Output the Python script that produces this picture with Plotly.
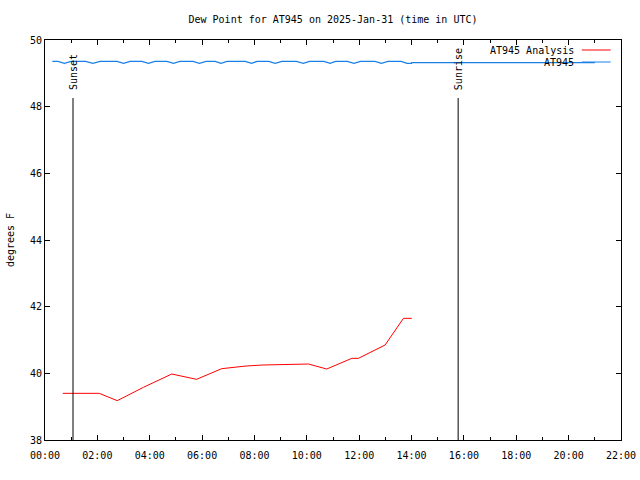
import plotly.graph_objects as go

# ---- data ----
red_hours = [0.68, 2.07, 2.76, 3.76, 4.84, 5.79, 6.75, 7.68, 8.32, 9.33, 10.06,
             10.76, 11.72, 11.97, 12.99, 13.69, 14.01]
red_values = [39.40, 39.40, 39.18, 39.58, 39.98, 39.82, 40.14, 40.22, 40.25, 40.28,
              40.28, 40.13, 40.45, 40.45, 40.85, 41.65, 41.65]

blue_hours = [0.28, 0.50, 0.74, 1.00, 1.55, 1.83, 2.10, 2.75, 3.00, 3.25, 3.70, 3.95,
              4.20, 4.65, 4.91, 5.15, 5.65, 5.90, 6.15, 6.50, 6.72, 6.95, 7.65, 7.89,
              8.10, 8.55, 8.79, 9.05, 9.60, 9.87, 10.10, 10.65, 10.89, 11.10, 11.55,
              11.80, 12.05, 12.60, 12.85, 13.10, 13.60, 13.83, 14.00, 14.01, 21.00]
blue_values = [49.36, 49.36, 49.30, 49.36, 49.36, 49.30, 49.36, 49.36, 49.30, 49.36,
               49.36, 49.30, 49.36, 49.36, 49.30, 49.36, 49.36, 49.30, 49.36, 49.36,
               49.30, 49.36, 49.36, 49.30, 49.36, 49.36, 49.30, 49.36, 49.36, 49.30,
               49.36, 49.36, 49.30, 49.36, 49.36, 49.30, 49.36, 49.36, 49.30, 49.36,
               49.36, 49.30, 49.30, 49.32, 49.32]

event_names = ["Sunset", "Sunrise"]
event_hours = [1.07, 15.78]

x_tick_vals = [0, 2, 4, 6, 8, 10, 12, 14, 16, 18, 20, 22]
x_tick_text = ["00:00", "02:00", "04:00", "06:00", "08:00", "10:00", "12:00",
               "14:00", "16:00", "18:00", "20:00", "22:00"]
y_tick_vals = [38, 40, 42, 44, 46, 48, 50]

series_names = ["AT945 Analysis", "AT945"]
series_colors = ["#ff0000", "#1a80e8"]

FONT = "DejaVu Sans Mono"

fig = go.Figure()
fig.add_trace(go.Scatter(x=red_hours, y=red_values, mode="lines",
                         line=dict(color=series_colors[0], width=1),
                         name=series_names[0], showlegend=False))
fig.add_trace(go.Scatter(x=blue_hours, y=blue_values, mode="lines",
                         line=dict(color=series_colors[1], width=1.3),
                         name=series_names[1], showlegend=False))

shapes = []
annotations = []
for name, h in zip(event_names, event_hours):
    shapes.append(dict(type="line", xref="x", yref="y domain", x0=h, x1=h,
                       y0=0, y1=0.855, line=dict(color="black", width=1)))
    annotations.append(dict(x=h, xref="x", y=0.87, yref="y domain", text=name,
                            textangle=-90, showarrow=False, xanchor="center",
                            yanchor="bottom", font=dict(family=FONT, size=10, color="black")))

# legend (gnuplot style: text then sample)
leg_y = [0.975, 0.945]
for name, col, ly in zip(series_names, series_colors, leg_y):
    annotations.append(dict(x=0.922, xref="paper", y=ly, yref="paper", text=name,
                            showarrow=False, xanchor="right", yanchor="middle",
                            font=dict(family=FONT, size=10, color="black")))
    shapes.append(dict(type="line", xref="paper", yref="paper", x0=0.932, x1=0.982,
                       y0=ly, y1=ly, line=dict(color=col, width=1)))

fig.update_layout(
    template="none",
    width=640, height=480,
    margin=dict(l=45, r=19, t=40, b=40, pad=0),
    paper_bgcolor="white", plot_bgcolor="white",
    font=dict(family=FONT, size=10, color="black"),
    title=dict(text="Dew Point for AT945 on 2025-Jan-31 (time in UTC)",
               x=0.5, xref="paper", xanchor="center", y=0.96, yanchor="middle",
               font=dict(family=FONT, size=10)),
    shapes=shapes, annotations=annotations,
    showlegend=False,
)
fig.update_xaxes(range=[0, 22], tickmode="array", tickvals=x_tick_vals,
                 ticktext=x_tick_text, showgrid=False, zeroline=False,
                 automargin=False,
                 showline=True, linecolor="black", linewidth=1, mirror="ticks",
                 ticks="inside", ticklen=5, tickcolor="black",
                 ticklabelstandoff=6,
                 minor=dict(dtick=1, ticks="inside", ticklen=3, tickcolor="black",
                            showgrid=False),
                 tickfont=dict(family=FONT, size=10))
fig.update_yaxes(range=[38, 50], tickmode="array", tickvals=y_tick_vals,
                 showgrid=False, zeroline=False,
                 automargin=False,
                 showline=True, linecolor="black", linewidth=1, mirror="ticks",
                 ticks="inside", ticklen=5, tickcolor="black",
                 title=dict(text="degrees F", font=dict(family=FONT, size=10), standoff=13),
                 tickfont=dict(family=FONT, size=10))

fig.write_html("out.html")
